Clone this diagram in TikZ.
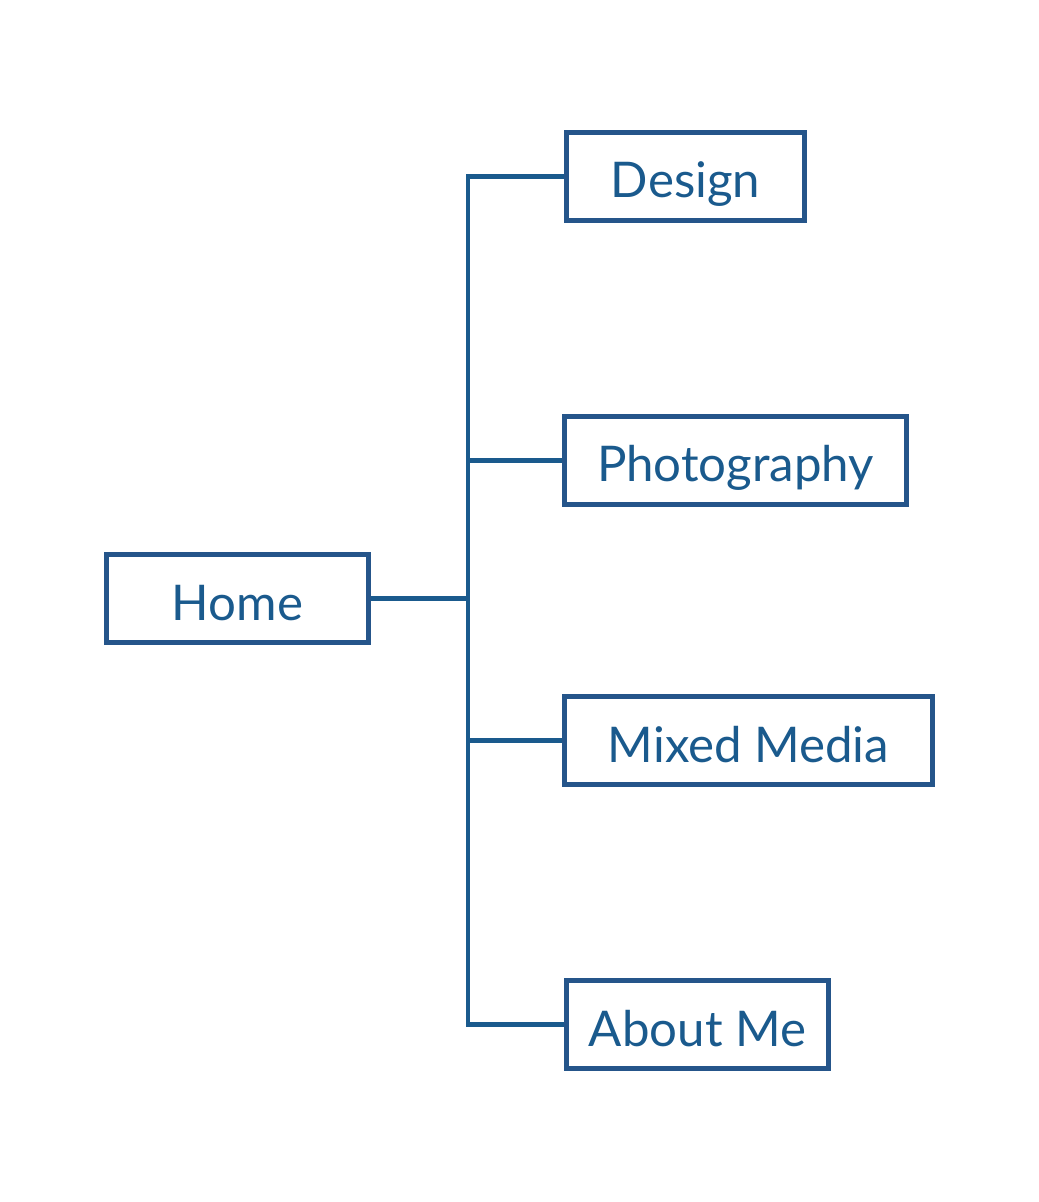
\documentclass[tikz,border=0pt]{standalone}
\usepackage{fontspec}
\setmainfont{Lato}
\usepackage{xcolor}
\definecolor{boxblue}{HTML}{25558A}
\definecolor{lineblue}{HTML}{1A5A8D}

\begin{document}
\begin{tikzpicture}[x=0.02cm,y=-0.02cm,
  box/.style={draw=boxblue,line width=0.11cm,minimum height=88*0.02cm,inner sep=0pt,text=lineblue,
    font=\fontsize{28}{34}\selectfont,text height=0.86cm,text depth=0pt},
  link/.style={draw=lineblue,line width=0.095cm}]
\useasboundingbox (0,0) rectangle (1038,1202);
\node[box,minimum width=238*0.02cm] (design) at (685.5,176.5) {Design};
\node[box,minimum width=342*0.02cm] (photo) at (735.5,460.5) {Photography};
\node[box,minimum width=262*0.02cm] (home) at (237.5,598.5) {Home};
\node[box,minimum width=368*0.02cm] (mixed) at (748.5,740.5) {Mixed Media};
\node[box,minimum width=262*0.02cm] (about) at (697.5,1024.5) {About Me};
\coordinate (trunk) at (468,0);
% tree lines
\draw[link] (design.west) -- (design.west -| trunk) -- (about.west -| trunk) -- (about.west);
\foreach \n in {photo,mixed}
  \draw[link] (\n.west -| trunk) -- (\n.west);
\draw[link] (home.east) -- (home.east -| trunk);
\end{tikzpicture}
\end{document}
